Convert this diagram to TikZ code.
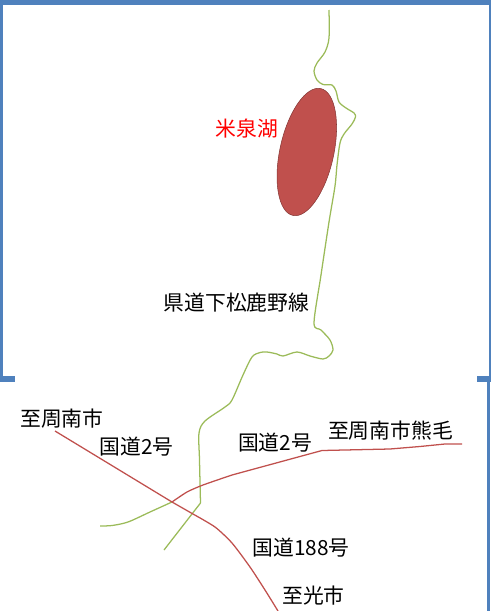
\documentclass[tikz,border=0pt]{standalone}
\usepackage{fontspec}
\setmainfont{Noto Sans CJK JP}
\usetikzlibrary{shapes.geometric}
\definecolor{frameblue}{HTML}{4F81BD}
\definecolor{roadgreen}{HTML}{9BBB59}
\definecolor{roadred}{HTML}{C0504D}
\tikzset{
  framebar/.style={fill=frameblue,draw=none},
  greenroad/.style={draw=roadgreen,line width=0.95pt,line join=round},
  redroad/.style={draw=roadred,line width=0.95pt,line join=round},
  lbl/.style={font=\fontsize{15.6pt}{18pt}\selectfont,inner sep=0pt,text=black},
}
\begin{document}
\begin{tikzpicture}[x=0.75pt,y=-0.75pt]
\useasboundingbox (0,0) rectangle (491,611);
% frame
\fill[framebar] (0,0) rectangle (491,5);
\fill[framebar] (0,0) rectangle (3.3,382);
\fill[framebar] (0,376) rectangle (15,382);
\fill[framebar] (489,0) rectangle (491,382);
\fill[framebar] (477,376) rectangle (491,382);
\fill[framebar] (487.3,376) rectangle (490,611);
% lake
\node[ellipse,draw=roadred!70!black,line width=0.4pt,fill=roadred,inner sep=0pt,minimum width=40.4pt,minimum height=97.4pt,rotate=-12.4] (lake) at (306.8,152) {};
% green road, north-south
\draw[greenroad] plot[smooth,tension=0.5] coordinates {(329,10) (329,38) (325,52) (317,63) (314,71) (317,80) (323,84.5) (332,85) (336,91) (339,102) (346,108) (354,113) (355.5,117) (352,124) (344,134) (340,143) (337,165) (335,186) (329,222) (321,275) (314,323) (321,330) (330,340) (333,350) (329,356) (323,359) (310,356) (297,352) (283,356) (277,354) (267,352) (260,352.5) (252,357) (243,375) (232,400) (225,407) (205,421) (199,433) (199.5,460) (200.5,503)};
\draw[greenroad] (200.5,503) -- (164,550);
\draw[greenroad] plot[smooth,tension=0.5] coordinates {(100,526) (112,525.5) (128,522) (150,512) (172,502)};
% red roads
\draw[redroad] plot[smooth,tension=0.4] coordinates {(172,502) (187,492) (203,485) (232,475)} -- (322,450.5) -- (390,449) -- (420,446.5) -- (445,444) -- (462,444);
\draw[redroad] (55,431) -- (172,502) -- (193,514) plot[smooth,tension=0.4] coordinates {(193,514) (215,527) (232,543) (250,567) (265,590) (278,611)};
% labels
\node[lbl,text=red] (lakename) at (247,129) {米泉湖};
\node[lbl] (pref) at (236.5,303) {県道下松鹿野線};
\node[lbl] (w) at (62,419) {至周南市};
\node[lbl] (r2a) at (136.5,447) {国道2号};
\node[lbl] (r2b) at (275,443) {国道2号};
\node[lbl] (e) at (390.5,431) {至周南市熊毛};
\node[lbl] (r188) at (301,548) {国道188号};
\node[lbl] (s) at (313.5,596) {至光市};
\end{tikzpicture}
\end{document}
